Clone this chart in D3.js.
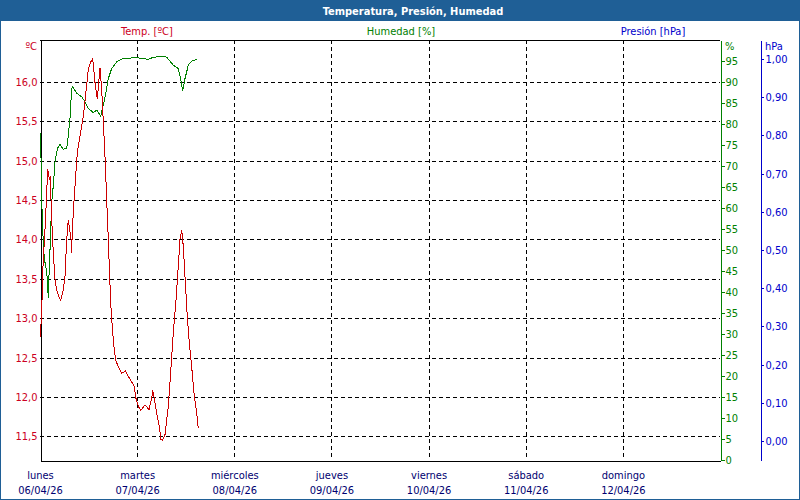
<!DOCTYPE html>
<html>
<head>
<meta charset="utf-8">
<script src="https://cdn.jsdelivr.net/npm/d3@7"></script>
<style>
  html, body { margin: 0; padding: 0; background: #ffffff; }
  svg { display: block; }
  text { font-family: "DejaVu Sans Condensed", "DejaVu Sans", sans-serif; font-size: 11px; }
</style>
</head>
<body>
<svg id="chart" width="800" height="500"></svg>
<script>
// ---- data (hours since lunes 06/04/26 00:00) ----
const dayNames = ["lunes", "martes", "miércoles", "jueves", "viernes", "sábado", "domingo"];
const dayDates = ["06/04/26", "07/04/26", "08/04/26", "09/04/26", "10/04/26", "11/04/26", "12/04/26"];

const tempHours = [0.0, 0.37, 0.74, 1.36, 1.90, 2.35, 2.52, 2.89, 3.29, 3.71, 4.13, 4.69, 5.11, 5.61, 6.18, 6.60, 6.99, 7.24, 7.66, 7.83, 7.98, 8.47, 9.22, 9.88, 10.70, 11.29, 11.93, 12.48, 13.02, 13.59, 14.16, 14.45, 14.82, 15.24, 15.64, 16.06, 16.48, 16.87, 17.12, 17.47, 17.96, 18.28, 18.70, 19.35, 20.19, 21.17, 21.82, 22.66, 23.30, 23.72, 24.29, 24.95, 25.94, 26.93, 27.60, 27.84, 28.24, 28.83, 29.48, 29.90, 30.22, 30.88, 31.70, 32.37, 32.93, 33.60, 34.17, 34.59, 35.01, 35.40, 35.82, 36.39, 36.89, 37.48, 38.05, 38.72, 39.11];
const tempValues = [12.76, 13.00, 13.66, 14.25, 14.89, 14.76, 14.80, 14.25, 13.83, 13.49, 13.36, 13.27, 13.23, 13.32, 13.53, 14.00, 14.25, 14.16, 14.00, 13.83, 14.12, 14.55, 15.10, 15.31, 15.56, 15.84, 16.16, 16.25, 16.29, 15.99, 15.78, 15.95, 16.18, 15.90, 15.50, 15.05, 14.50, 14.00, 13.66, 13.19, 12.81, 12.64, 12.47, 12.38, 12.30, 12.33, 12.26, 12.19, 12.13, 11.98, 11.88, 11.83, 11.90, 11.84, 11.98, 12.09, 11.98, 11.79, 11.62, 11.46, 11.45, 11.52, 11.88, 12.38, 12.81, 13.23, 13.66, 14.00, 14.12, 13.91, 13.53, 13.02, 12.68, 12.38, 12.05, 11.79, 11.60];

const humHours = [0.0, 0.25, 0.42, 0.67, 0.91, 1.31, 1.66, 1.90, 2.05, 2.22, 2.47, 2.72, 2.96, 3.29, 3.71, 4.13, 4.52, 4.94, 5.76, 6.60, 6.99, 7.41, 7.83, 8.08, 9.07, 10.30, 11.12, 11.93, 13.17, 14.01, 15.00, 15.64, 16.31, 16.87, 17.71, 18.95, 20.58, 23.89, 26.76, 27.99, 30.46, 31.30, 32.93, 34.17, 34.76, 35.26, 35.82, 36.64, 37.48, 38.72];
const humValues = [77.9, 72.0, 62.0, 55.0, 49.6, 46.5, 44.9, 41.0, 38.5, 44.0, 50.0, 57.0, 62.0, 65.4, 71.0, 73.4, 74.6, 75.1, 74.0, 74.2, 77.3, 81.3, 88.5, 88.9, 87.3, 86.5, 85.3, 83.7, 82.7, 83.3, 81.9, 84.5, 87.7, 90.8, 93.2, 94.8, 95.6, 95.8, 95.4, 95.9, 96.1, 95.9, 94.0, 93.2, 90.8, 87.9, 90.8, 94.0, 95.0, 95.4];

const presHours = [];
const presValues = [];

const tempTicks = [11.5, 12.0, 12.5, 13.0, 13.5, 14.0, 14.5, 15.0, 15.5, 16.0];
const humTicks = [0, 5, 10, 15, 20, 25, 30, 35, 40, 45, 50, 55, 60, 65, 70, 75, 80, 85, 90, 95];
const presTicks = [0, 0.1, 0.2, 0.3, 0.4, 0.5, 0.6, 0.7, 0.8, 0.9, 1.0];
const dayTicks = [0, 24, 48, 72, 96, 120, 144];

// ---- styling ----
const RED = "#CC0000", TRED = "#CC0022", GREEN = "#008000", BLUE = "#0000CC", NAVY = "#000070", BAR = "#1F5F96";
const L = 40, R = 720, T = 40, B = 460;

const svg = d3.select("#chart");
svg.append("rect").attr("x", 0).attr("y", 0).attr("width", 800).attr("height", 500).attr("fill", "#ffffff");
svg.append("rect").attr("x", 0.5).attr("y", 0.5).attr("width", 799).attr("height", 499)
  .attr("fill", "none").attr("stroke", BAR).attr("stroke-width", 1);
svg.append("rect").attr("x", 0).attr("y", 0).attr("width", 800).attr("height", 21).attr("fill", BAR);
svg.append("text").attr("x", 413).attr("y", 15).attr("text-anchor", "middle")
  .attr("fill", "#ffffff").style("font-weight", "bold").style("font-size", "11px")
  .text("Temperatura, Presión, Humedad");

// scales
const x = d3.scaleLinear().domain([0, 168]).range([L, R]);
const yT = d3.scaleLinear().domain([11.2, 16.53]).range([B, T]);
const yH = d3.scaleLinear().domain([0, 100]).range([B, T]);
const yP = d3.scaleLinear().domain([-0.05, 1.05]).range([B, T]);
const comma = (d, n) => d.toFixed(n).replace(".", ",");

// grid
const grid = svg.append("g").attr("stroke", "#000").attr("stroke-dasharray", "4,3").attr("shape-rendering", "crispEdges");
tempTicks.forEach(v => {
  grid.append("line").attr("x1", L).attr("x2", R).attr("y1", Math.round(yT(v)) + 0.5).attr("y2", Math.round(yT(v)) + 0.5);
});
dayTicks.slice(1).forEach(h => {
  grid.append("line").attr("x1", Math.round(x(h)) + 0.5).attr("x2", Math.round(x(h)) + 0.5).attr("y1", T).attr("y2", B);
});

// frame top line
svg.append("line").attr("x1", L).attr("x2", R).attr("y1", T + 0.5).attr("y2", T + 0.5)
  .attr("stroke", "#000").attr("shape-rendering", "crispEdges");

// left temp axis
const gT = svg.append("g").attr("transform", `translate(${L + 0.5},0)`)
  .call(d3.axisLeft(yT).tickValues(tempTicks).tickSize(0).tickSizeOuter(0).tickPadding(3).tickFormat(d => comma(d, 1)));
gT.select(".domain").attr("stroke", "#000").attr("shape-rendering", "crispEdges");
gT.selectAll("text").attr("fill", TRED).style("font-size", "11px").style("font-family", null);

// bottom axis
const gX = svg.append("g").attr("transform", `translate(0,${B + 0.5})`)
  .call(d3.axisBottom(x).tickValues(dayTicks).tickSize(0).tickSizeOuter(0).tickFormat(""));
gX.select(".domain").attr("stroke", "#000").attr("shape-rendering", "crispEdges");
gX.selectAll(".tick").each(function (d, i) {
  const g = d3.select(this);
  g.select("text").remove();
  g.append("text").attr("y", 18).attr("text-anchor", "middle").attr("fill", NAVY).text(dayNames[i]);
  g.append("text").attr("y", 33).attr("text-anchor", "middle").attr("fill", NAVY).text(dayDates[i]);
});

// right humidity axis
const gH = svg.append("g").attr("transform", `translate(${R + 0.5},0)`)
  .call(d3.axisRight(yH).tickValues(humTicks).tickSize(4).tickSizeOuter(0).tickPadding(1).tickFormat(d => d));
gH.select(".domain").attr("stroke", GREEN).attr("shape-rendering", "crispEdges");
gH.selectAll(".tick line").attr("stroke", GREEN).attr("shape-rendering", "crispEdges");
gH.selectAll("text").attr("fill", GREEN).style("font-size", "11px").style("font-family", null);

// right pressure axis
const gP = svg.append("g").attr("transform", `translate(760.5,0)`)
  .call(d3.axisRight(yP).tickValues(presTicks).tickSize(3).tickSizeOuter(0).tickPadding(2).tickFormat(d => comma(d, 2)));
gP.select(".domain").attr("stroke", BLUE).attr("shape-rendering", "crispEdges");
gP.selectAll(".tick line").attr("stroke", BLUE).attr("shape-rendering", "crispEdges");
gP.selectAll("text").attr("fill", BLUE).style("font-size", "11px").style("font-family", null);

// series labels + units
svg.append("text").attr("x", 147).attr("y", 35).attr("text-anchor", "middle").attr("fill", TRED).text("Temp. [ºC]");
svg.append("text").attr("x", 401).attr("y", 35).attr("text-anchor", "middle").attr("fill", GREEN).text("Humedad [%]");
svg.append("text").attr("x", 653).attr("y", 35).attr("text-anchor", "middle").attr("fill", BLUE).text("Presión [hPa]");
svg.append("text").attr("x", 37).attr("y", 50).attr("text-anchor", "end").attr("fill", TRED).text("ºC");
svg.append("text").attr("x", 725).attr("y", 50).attr("fill", GREEN).text("%");
svg.append("text").attr("x", 765).attr("y", 50).attr("fill", BLUE).text("hPa");

// lines
const lineT = d3.line().x((d, i) => x(tempHours[i])).y(d => yT(d));
const lineH = d3.line().x((d, i) => x(humHours[i])).y(d => yH(d));
const lineP = d3.line().x((d, i) => x(presHours[i])).y(d => yP(d));

svg.append("path").datum(humValues).attr("d", lineH).attr("fill", "none")
  .attr("stroke", GREEN).attr("stroke-width", 1).attr("shape-rendering", "crispEdges");
svg.append("path").datum(tempValues).attr("d", lineT).attr("fill", "none")
  .attr("stroke", RED).attr("stroke-width", 1).attr("shape-rendering", "crispEdges");
if (presValues.length) {
  svg.append("path").datum(presValues).attr("d", lineP).attr("fill", "none")
    .attr("stroke", BLUE).attr("stroke-width", 1);
}
</script>
</body>
</html>
